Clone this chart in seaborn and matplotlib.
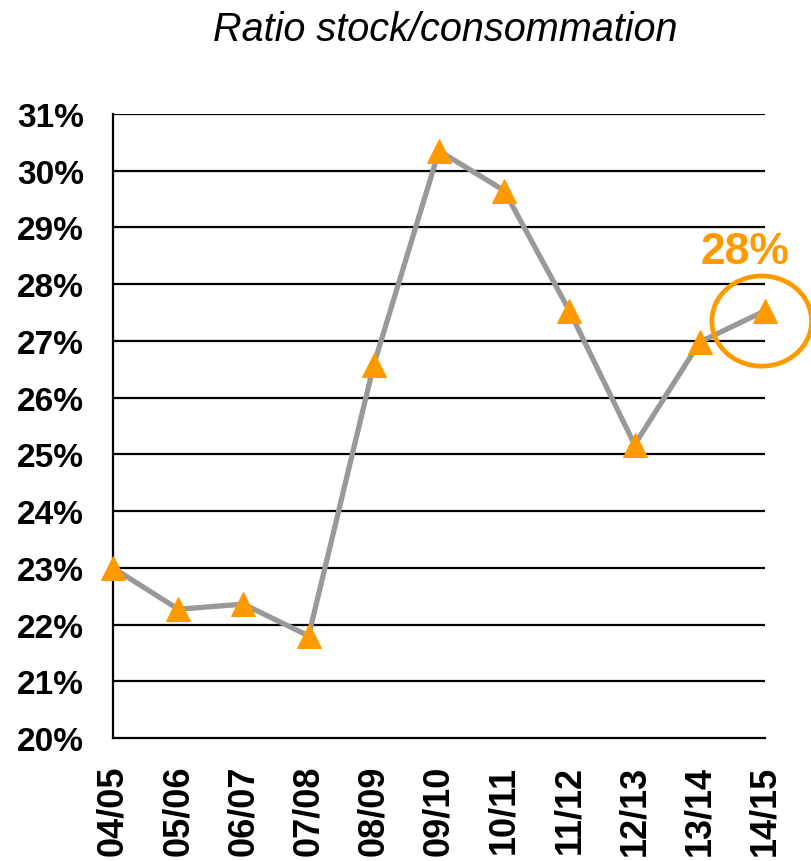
import matplotlib
matplotlib.use('Agg')
import matplotlib.pyplot as plt
from matplotlib.patches import Ellipse
import seaborn as sns
import pandas as pd

campagnes = ['04/05', '05/06', '06/07', '07/08', '08/09', '09/10',
             '10/11', '11/12', '12/13', '13/14', '14/15']
ratio = [23.0, 22.27, 22.36, 21.8, 26.58, 30.35, 29.65, 27.53, 25.17, 26.98, 27.53]
y_ticks = list(range(20, 32))

df = pd.DataFrame({'campagne': campagnes, 'ratio': ratio})
df['pos'] = range(len(df))

sns.set_style('white')
plt.rcParams['font.family'] = ['Liberation Sans', 'DejaVu Sans']

orange = '#FF9900'
gris = '#999999'

fig = plt.figure(figsize=(8.12, 8.62), dpi=100)
fig.set_facecolor('white')
ax = fig.add_axes([113 / 812, 1 - 739 / 862, 652 / 812, 624 / 862])

sns.lineplot(data=df, x='pos', y='ratio', ax=ax, color=gris, linewidth=3.8,
             marker='^', markersize=17, markerfacecolor=orange,
             markeredgecolor=orange, zorder=3, clip_on=False)

ax.set_xlim(0, len(campagnes) - 1)
ax.set_ylim(20, 31)
ax.set_yticks(y_ticks)
ax.set_yticklabels(['{}%'.format(t) for t in y_ticks], fontsize=24, fontweight='bold')
ax.set_xticks(df['pos'])
ax.set_xticklabels(campagnes, rotation=90, fontsize=26, fontweight='bold')
ax.set_xlabel('')
ax.set_ylabel('')

for t in y_ticks[1:]:
    ax.axhline(t, color='black', linewidth=1.6, zorder=1)

for side in ['top', 'right']:
    ax.spines[side].set_visible(False)
for side in ['left', 'bottom']:
    ax.spines[side].set_color('black')
    ax.spines[side].set_linewidth(1.6)

ax.tick_params(axis='y', direction='in', length=7, width=1.6, pad=21, colors='black')
ax.tick_params(axis='x', direction='out', length=7, width=1.6, pad=12, colors='black')

# mise en evidence de la derniere campagne
last_x = len(campagnes) - 1
ax.add_patch(Ellipse((last_x - 0.05, 27.35), 1.53, 1.59, fill=False,
                     edgecolor=orange, linewidth=3.4, clip_on=False, zorder=4))
ax.text(last_x - 0.31, 28.57, '{}%'.format(round(ratio[-1])), color=orange,
        fontsize=32, fontweight='bold', ha='center', va='center', clip_on=False)

fig.text(445 / 812, 1 - 30 / 862, 'Ratio stock/consommation', fontsize=28.5,
         fontstyle='italic', color='black', ha='center', va='center')

plt.savefig('out.png', dpi=100)
